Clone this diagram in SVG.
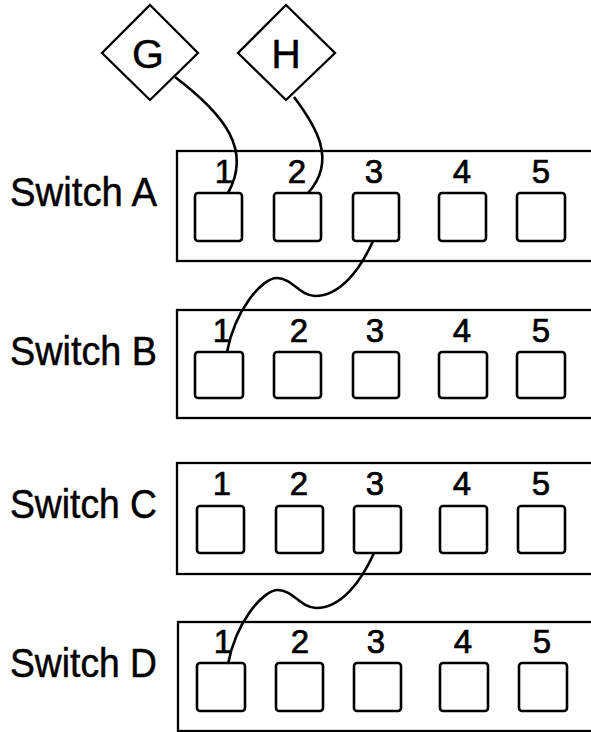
<svg xmlns="http://www.w3.org/2000/svg" width="591" height="732" viewBox="0 0 591 732">
<style>
.box{fill:#fff;stroke:#000;stroke-width:2.3}
.port{fill:#fff;stroke:#000;stroke-width:2.6}
.dia{fill:#fff;stroke:#000;stroke-width:2.3}
.lbl{font-family:"Liberation Sans",Arial,sans-serif;font-size:41px;fill:#000;stroke:#000;stroke-width:0.5}
.num{font-family:"Liberation Sans",Arial,sans-serif;font-size:33px;fill:#000;stroke:#000;stroke-width:0.7;text-anchor:middle}
.dl{font-family:"Liberation Sans",Arial,sans-serif;font-size:41px;fill:#000;stroke:#000;stroke-width:0.4;text-anchor:middle}
.wire{fill:none;stroke:#000;stroke-width:2.6}
</style>
<rect width="591" height="732" fill="#fff"/>
<g id="switchA">
<rect class="box" x="177" y="151" width="420" height="110"/>
<text class="lbl" x="10" y="206" textLength="147" lengthAdjust="spacingAndGlyphs">Switch A</text>
<rect class="port" x="195" y="193" width="47" height="48" rx="3"/>
<rect class="port" x="274" y="193" width="47" height="48" rx="3"/>
<rect class="port" x="353" y="193" width="46" height="48" rx="3"/>
<rect class="port" x="439" y="193" width="47" height="48" rx="3"/>
<rect class="port" x="517" y="193" width="48" height="48" rx="3"/>
<text class="num" x="224" y="183">1</text>
<text class="num" x="297" y="183">2</text>
<text class="num" x="374" y="183">3</text>
<text class="num" x="462" y="183">4</text>
<text class="num" x="541" y="183">5</text>
</g>
<g id="switchB">
<rect class="box" x="177" y="310" width="420" height="108"/>
<text class="lbl" x="10" y="365" textLength="147" lengthAdjust="spacingAndGlyphs">Switch B</text>
<rect class="port" x="195" y="352" width="48" height="46" rx="3"/>
<rect class="port" x="274" y="352" width="47" height="46" rx="3"/>
<rect class="port" x="353" y="352" width="46" height="46" rx="3"/>
<rect class="port" x="439" y="352" width="48" height="46" rx="3"/>
<rect class="port" x="517" y="352" width="48" height="46" rx="3"/>
<text class="num" x="222" y="342">1</text>
<text class="num" x="299" y="342">2</text>
<text class="num" x="375" y="342">3</text>
<text class="num" x="462" y="342">4</text>
<text class="num" x="541" y="342">5</text>
</g>
<g id="switchC">
<rect class="box" x="177" y="463" width="420" height="111"/>
<text class="lbl" x="10" y="518" textLength="147" lengthAdjust="spacingAndGlyphs">Switch C</text>
<rect class="port" x="197" y="506" width="47" height="47" rx="3"/>
<rect class="port" x="276" y="506" width="47" height="47" rx="3"/>
<rect class="port" x="354" y="506" width="47" height="47" rx="3"/>
<rect class="port" x="440" y="506" width="47" height="47" rx="3"/>
<rect class="port" x="518" y="506" width="47" height="47" rx="3"/>
<text class="num" x="222" y="495">1</text>
<text class="num" x="299" y="495">2</text>
<text class="num" x="375" y="495">3</text>
<text class="num" x="462" y="495">4</text>
<text class="num" x="541" y="495">5</text>
</g>
<g id="switchD">
<rect class="box" x="178" y="622" width="420" height="109"/>
<text class="lbl" x="10" y="677" textLength="147" lengthAdjust="spacingAndGlyphs">Switch D</text>
<rect class="port" x="197" y="663" width="48" height="48" rx="3"/>
<rect class="port" x="276" y="663" width="47" height="48" rx="3"/>
<rect class="port" x="354" y="663" width="47" height="48" rx="3"/>
<rect class="port" x="440" y="663" width="48" height="48" rx="3"/>
<rect class="port" x="519" y="663" width="48" height="48" rx="3"/>
<text class="num" x="223" y="653">1</text>
<text class="num" x="300" y="653">2</text>
<text class="num" x="376" y="653">3</text>
<text class="num" x="463" y="653">4</text>
<text class="num" x="542" y="653">5</text>
</g>
<g id="nodeG">
<polygon class="dia" points="150,5 198,53 150,100 102,53"/>
<text class="dl" x="148" y="68">G</text>
</g>
<g id="nodeH">
<polygon class="dia" points="286,5 335,53 286,100 238,53"/>
<text class="dl" x="286" y="68">H</text>
</g>
<g id="connectors">
<path class="wire" d="M175,77 C225,115 252,150 228,193"/>
<path class="wire" d="M294,97 C315,125 338,160 308,193"/>
<path class="wire" d="M373,241 C360,270 340,296 315,296 C300,296 292,278 277,278 C262,278 235,310 227,352"/>
<path class="wire" d="M374,553 C361,582 341,608 316,608 C301,608 293,590 278,590 C263,590 236,622 228,664"/>
</g>
</svg>
